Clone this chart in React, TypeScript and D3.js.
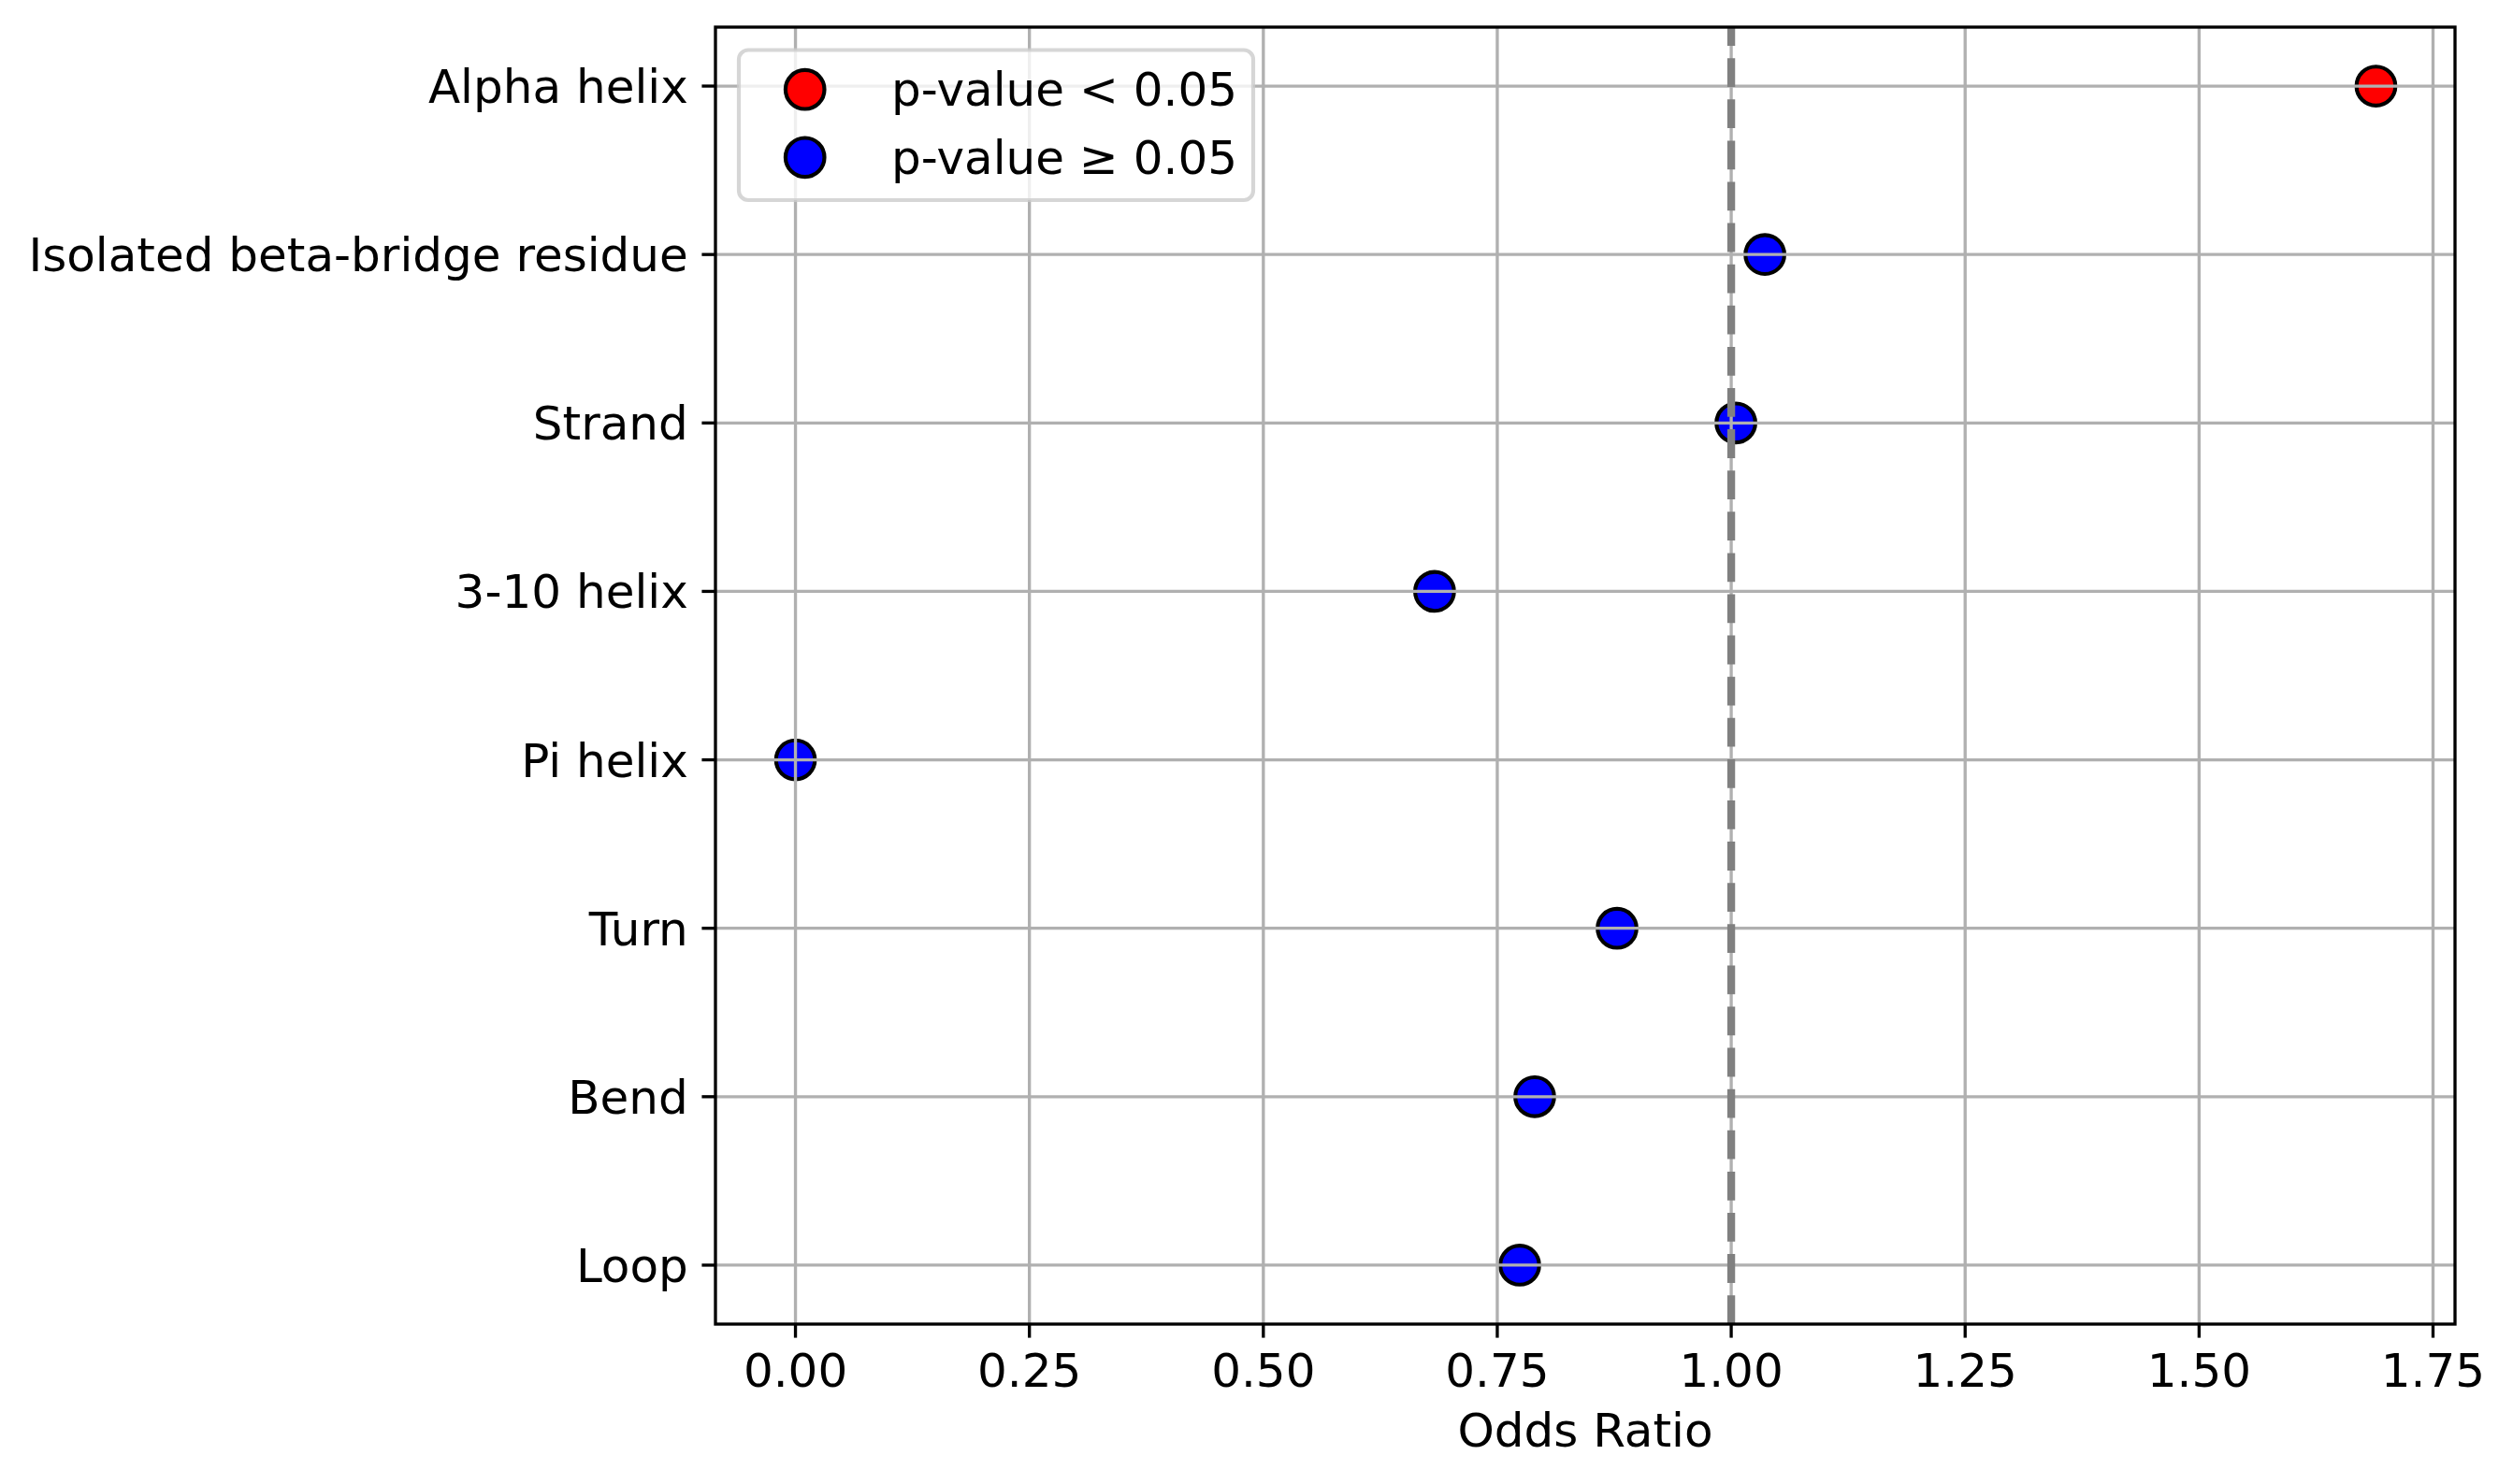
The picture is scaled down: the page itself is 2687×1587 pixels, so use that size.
import React from "react";
import * as d3 from "d3";

const categories = [
  "Alpha helix",
  "Isolated beta-bridge residue",
  "Strand",
  "3-10 helix",
  "Pi helix",
  "Turn",
  "Bend",
  "Loop",
];
const oddsRatios = [1.689, 1.036, 1.005, 0.683, 0.0, 0.878, 0.79, 0.774];
const significant = [true, false, false, false, false, false, false, false];
const xTicks = [0, 0.25, 0.5, 0.75, 1.0, 1.25, 1.5, 1.75];
const legendLabels = ["p-value < 0.05", "p-value \u2265 0.05"];
const legendColors = ["#ff0000", "#0000ff"];
const referenceValue = 1.0;

const W = 2687;
const H = 1587;
const L = 765;
const R = 2625;
const T = 29;
const B = 1416;
const FONT = "'DejaVu Sans', sans-serif";
const FS = 50;
const LW = 3.33;
const TICK = 14.6;

export default function App() {
  const x = d3.scaleLinear().domain([-0.0855, 1.7735]).range([L, R]);
  const y = d3
    .scaleLinear()
    .domain([-0.35, categories.length - 1 + 0.35])
    .range([T, B]);
  const fmt = d3.format(".2f");
  const r = 20.8;

  return (
    <svg
      width={W}
      height={H}
      viewBox={`0 0 ${W} ${H}`}
      style={{ position: "absolute", left: 0, top: 0, background: "#fff" }}
      fontFamily={FONT}
    >
      <rect x={0} y={0} width={W} height={H} fill="#fff" />
      <defs>
        <clipPath id="plot">
          <rect x={L} y={T} width={R - L} height={B - T} />
        </clipPath>
      </defs>
      <g clipPath="url(#plot)">
        {/* points */}
        {categories.map((c, i) => (
          <circle
            key={c}
            cx={x(oddsRatios[i])}
            cy={y(i)}
            r={r}
            fill={significant[i] ? legendColors[0] : legendColors[1]}
            stroke="#000"
            strokeWidth={4.17}
          />
        ))}
        {/* grid */}
        {xTicks.map((t) => (
          <line
            key={"gx" + t}
            x1={x(t)}
            x2={x(t)}
            y1={T}
            y2={B}
            stroke="#b0b0b0"
            strokeWidth={LW}
          />
        ))}
        {categories.map((c, i) => (
          <line
            key={"gy" + c}
            x1={L}
            x2={R}
            y1={y(i)}
            y2={y(i)}
            stroke="#b0b0b0"
            strokeWidth={LW}
          />
        ))}
        {/* reference line */}
        <line
          x1={x(referenceValue)}
          x2={x(referenceValue)}
          y1={B}
          y2={T}
          stroke="#808080"
          strokeWidth={8.33}
          strokeDasharray="30.8 13.3"
        />
      </g>

      {/* legend */}
      <g>
        <rect
          x={790}
          y={53.5}
          width={550}
          height={160.5}
          rx={10}
          ry={10}
          fill="#fff"
          fillOpacity={0.8}
          stroke="#cccccc"
          strokeOpacity={0.8}
          strokeWidth={4.17}
        />
        {legendLabels.map((lab, i) => (
          <g key={lab}>
            <circle
              cx={860.7}
              cy={95.7 + i * 72.6}
              r={r}
              fill={legendColors[i]}
              stroke="#000"
              strokeWidth={4.17}
            />
            <text x={953} y={95.7 + i * 72.6 + 17.5} fontSize={FS} fill="#000">
              {lab}
            </text>
          </g>
        ))}
      </g>

      {/* spines */}
      <rect
        x={L}
        y={T}
        width={R - L}
        height={B - T}
        fill="none"
        stroke="#000"
        strokeWidth={LW}
      />

      {/* x axis ticks */}
      {xTicks.map((t) => (
        <g key={"xt" + t}>
          <line
            x1={x(t)}
            x2={x(t)}
            y1={B}
            y2={B + TICK}
            stroke="#000"
            strokeWidth={LW}
          />
          <text
            x={x(t)}
            y={1483}
            textAnchor="middle"
            fontSize={FS}
            fill="#000"
          >
            {fmt(t)}
          </text>
        </g>
      ))}

      {/* y axis ticks */}
      {categories.map((c, i) => (
        <g key={"yt" + c}>
          <line
            x1={L - TICK}
            x2={L}
            y1={y(i)}
            y2={y(i)}
            stroke="#000"
            strokeWidth={LW}
          />
          <text
            x={L - TICK - 14.6}
            y={y(i) + 18}
            textAnchor="end"
            fontSize={FS}
            fill="#000"
          >
            {c}
          </text>
        </g>
      ))}

      <text
        x={(L + R) / 2}
        y={1547}
        textAnchor="middle"
        fontSize={FS}
        fill="#000"
      >
        Odds Ratio
      </text>
    </svg>
  );
}
